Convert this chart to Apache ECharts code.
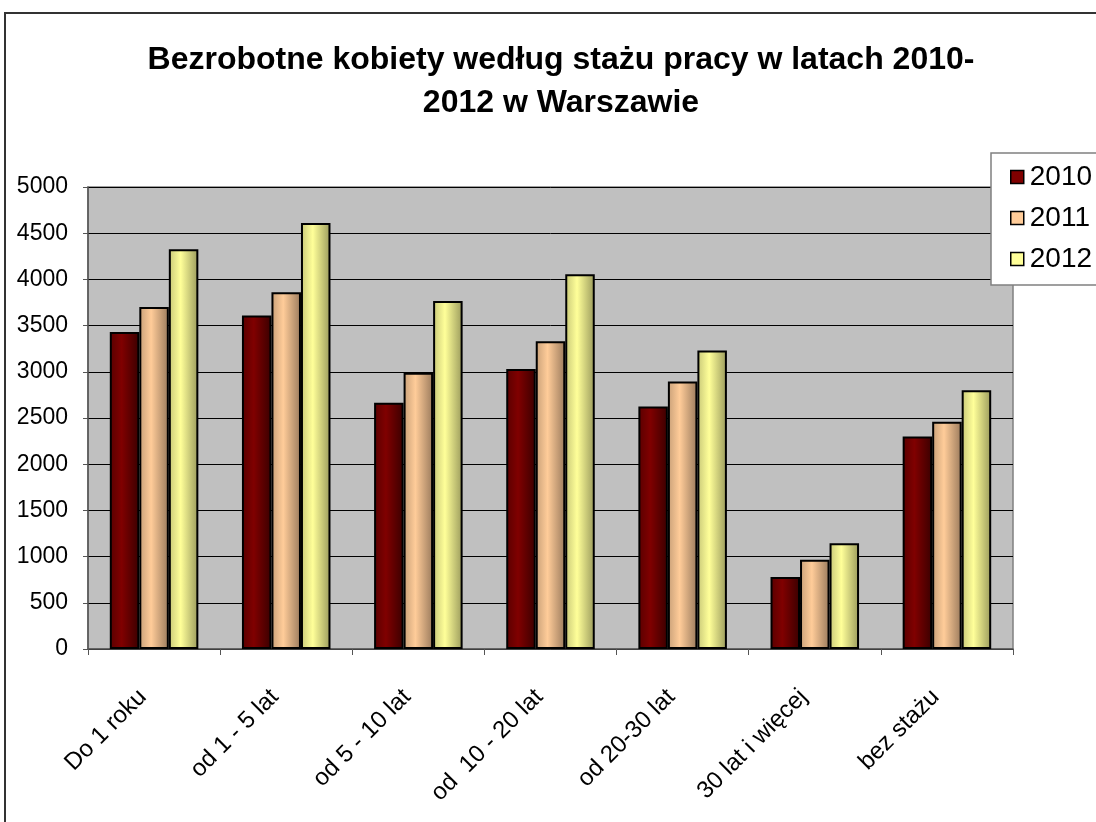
<!DOCTYPE html>
<html>
<head>
<meta charset="utf-8">
<script src="https://cdn.jsdelivr.net/npm/echarts@6/dist/echarts.min.js"></script>
<style>
html,body{margin:0;padding:0;background:#fff;}
#chart{width:1096px;height:822px;}
</style>
</head>
<body>
<div id="chart"></div>
<script>
const categories = ['Do 1 roku', 'od 1 - 5 lat', 'od 5 - 10 lat', 'od  10 - 20 lat', 'od 20-30 lat', '30 lat i więcej', 'bez stażu'];
const years = ['2010', '2011', '2012'];
const values2010 = [3430, 3610, 2665, 3030, 2625, 780, 2300];
const values2011 = [3700, 3860, 2990, 3330, 2895, 965, 2460];
const values2012 = [4325, 4610, 3765, 4055, 3230, 1145, 2800];
const yTicks = [0, 500, 1000, 1500, 2000, 2500, 3000, 3500, 4000, 4500, 5000];

const FONT = "'Liberation Sans', Arial, sans-serif";
const baseColors = ['#800000', '#FFCC99', '#FFFF99'];
const edgeDark = ['#3a0000', '#9a7a5c', '#9a9a5c'];
const edgeLeft = ['#5a0000', '#c8a078', '#c8c878'];
function grad(i) {
  return new echarts.graphic.LinearGradient(0, 0, 1, 0, [
    {offset: 0, color: edgeLeft[i]},
    {offset: 0.4, color: baseColors[i]},
    {offset: 1, color: edgeDark[i]}
  ]);
}
const allValues = [values2010, values2011, values2012];

const chart = echarts.init(document.getElementById('chart'), null, {renderer: 'canvas'});
chart.setOption({
  backgroundColor: '#fff',
  animation: false,
  textStyle: {fontFamily: FONT},
  title: {
    text: 'Bezrobotne kobiety według stażu pracy w latach 2010-\n2012 w Warszawie',
    left: 556,
    top: 34,
    textAlign: 'center',
    textStyle: {fontSize: 32, fontWeight: 'bold', color: '#000', lineHeight: 43, fontFamily: FONT}
  },
  graphic: [{
    type: 'rect',
    shape: {x: 5, y: 13, width: 1200, height: 900},
    style: {fill: 'none', stroke: '#333', lineWidth: 2},
    silent: true,
    z: -1
  }],
  legend: {
    orient: 'vertical',
    left: 991,
    top: 153,
    padding: [10, 40, 12, 19],
    backgroundColor: '#fff',
    borderColor: '#808080',
    borderWidth: 1.5,
    itemWidth: 13,
    itemHeight: 13,
    itemGap: 13,
    icon: 'rect',
    textStyle: {fontSize: 28, color: '#000', fontFamily: FONT, padding: [0, 0, 0, 1]},
    data: years.map((y, i) => ({name: y, itemStyle: {color: baseColors[i], borderColor: '#000', borderWidth: 1.5}}))
  },
  grid: {
    left: 88, right: 83, top: 187, bottom: 173,
    show: true,
    backgroundColor: '#C0C0C0',
    borderColor: '#808080',
    borderWidth: 1.5
  },
  xAxis: {
    type: 'category',
    data: categories,
    axisLine: {lineStyle: {color: '#555', width: 1.5}},
    axisTick: {show: true, length: 6, lineStyle: {color: '#555'}},
    axisLabel: {rotate: 45, fontSize: 24, color: '#000', margin: 33, padding: [0, 16, 0, 0], fontFamily: FONT, interval: 0}
  },
  yAxis: {
    type: 'value',
    min: yTicks[0],
    max: yTicks[yTicks.length - 1],
    interval: yTicks[1] - yTicks[0],
    axisLine: {show: true, lineStyle: {color: '#555', width: 1.5}},
    axisTick: {show: true, length: 5, lineStyle: {color: '#555'}},
    axisLabel: {fontSize: 23, color: '#000', margin: 20, fontFamily: FONT, formatter: v => String(v)},
    splitLine: {show: true, lineStyle: {color: '#000', width: 1}}
  },
  series: years.map((y, i) => ({
    name: y,
    type: 'bar',
    data: allValues[i],
    barGap: '0%',
    barCategoryGap: '33%',
    itemStyle: {color: grad(i), borderColor: '#000', borderWidth: 2}
  }))
});
</script>
</body>
</html>
